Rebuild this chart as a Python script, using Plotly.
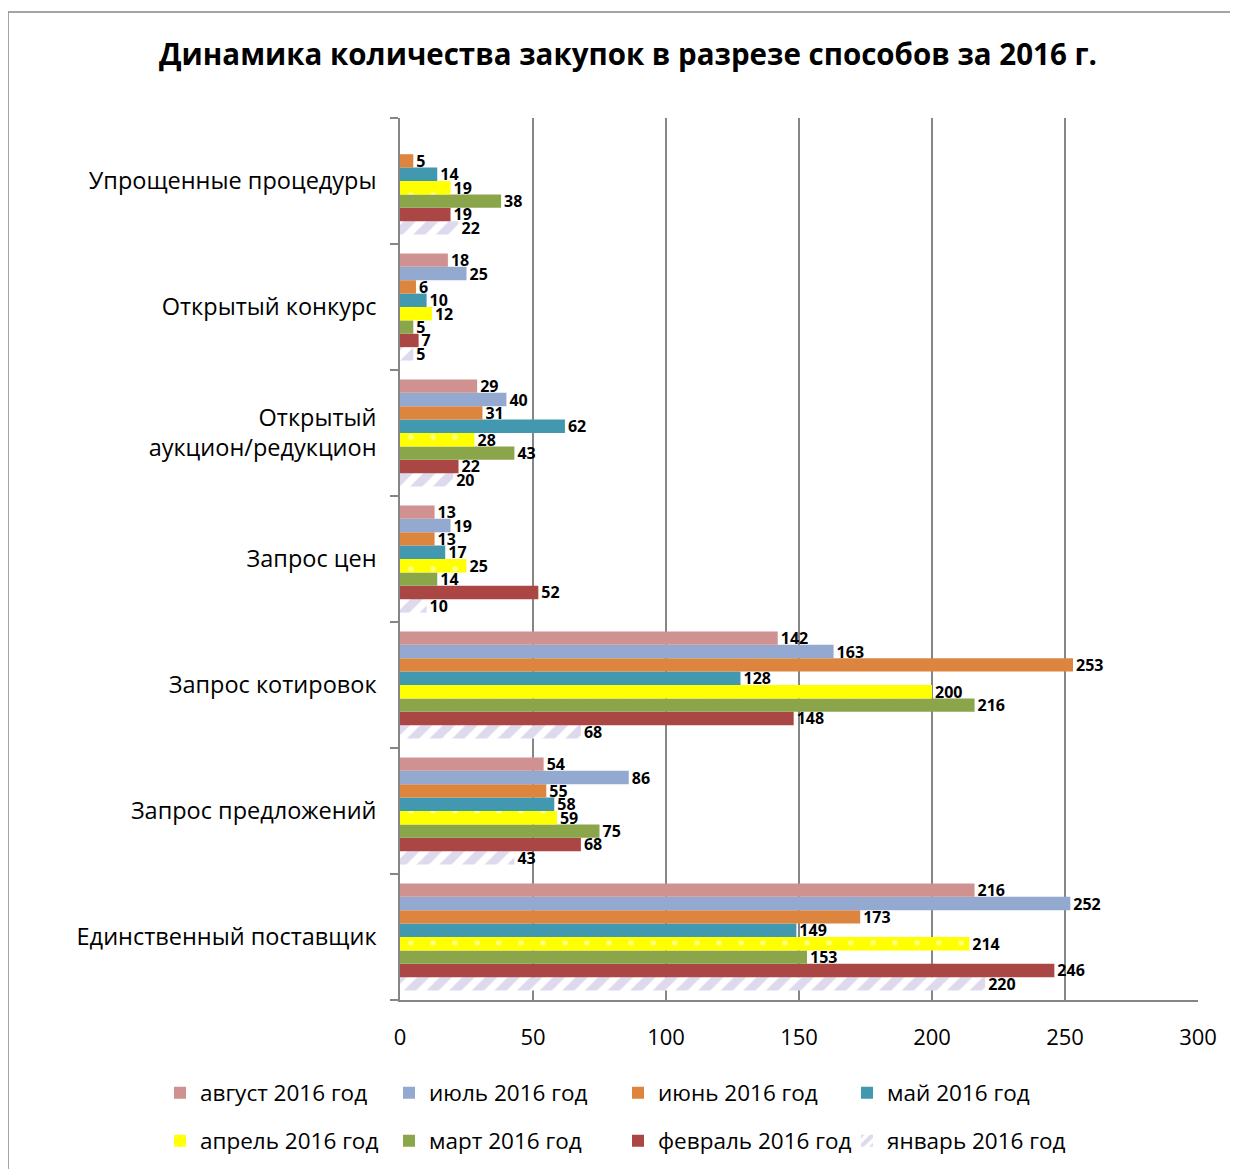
import plotly.graph_objects as go

categories = ["Единственный поставщик", "Запрос предложений", "Запрос котировок",
              "Запрос цен", "Открытый<br>аукцион/редукцион", "Открытый конкурс",
              "Упрощенные процедуры"]

series_names = ["январь 2016 год", "февраль 2016 год", "март 2016 год", "апрель 2016 год",
                "май 2016 год", "июнь 2016 год", "июль 2016 год", "август 2016 год"]

jan = [220, 43, 68, 10, 20, 5, 22]
feb = [246, 68, 148, 52, 22, 7, 19]
mar = [153, 75, 216, 14, 43, 5, 38]
apr = [214, 59, 200, 25, 28, 12, 19]
may = [149, 58, 128, 17, 62, 10, 14]
jun = [173, 55, 253, 13, 31, 6, 5]
jul = [252, 86, 163, 19, 40, 25, None]
aug = [216, 54, 142, 13, 29, 18, None]

values = [jan, feb, mar, apr, may, jun, jul, aug]
colors = ["#FFFFFF", "#AA4643", "#8BA54B", "#FFFF00", "#4198AF", "#DD843E", "#93A9D0", "#D09191"]
legend_rows = ["legend2", "legend2", "legend2", "legend2", "legend", "legend", "legend", "legend"]

FONT = "Open Sans"

fig = go.Figure()
for name, vals, col, lg in zip(series_names, values, colors, legend_rows):
    marker = dict(color=col, line=dict(width=0))
    if name.startswith("январь"):
        marker["pattern"] = dict(shape="/", fgcolor="#BFB3DB", bgcolor="#FFFFFF", size=16, solidity=0.55)
    elif name.startswith("апрель"):
        marker["pattern"] = dict(shape=".", fgcolor="#FFFFFF", bgcolor="#FFFF00", size=22, solidity=0.05)
    fig.add_trace(go.Bar(
        y=categories, x=vals, name=name, orientation="h", marker=marker, legend=lg,
        text=[str(v) if v is not None else "" for v in vals],
        textposition="outside", cliponaxis=False, constraintext="none",
        textfont=dict(family=FONT, size=16, color="black", weight="bold"),
    ))

# image-pixel -> paper coordinate helpers (plot area spans x 400..1198, y 118..1000)
px = lambda p: (p - 400) / 798
py = lambda p: (1000 - p) / 882

legend_common = dict(orientation="h", traceorder="reversed", xanchor="left", yanchor="middle",
                     entrywidth=184, entrywidthmode="pixels", bgcolor="rgba(0,0,0,0)",
                     font=dict(size=22.5, family=FONT), itemwidth=30)

fig.update_layout(
    width=1230, height=1161,
    margin=dict(l=392, r=40, t=110, b=169, autoexpand=False),
    paper_bgcolor="white", plot_bgcolor="white",
    barmode="group", bargap=0.15, bargroupgap=0,
    font=dict(family=FONT, color="black"),
    title=dict(text="<b>Динамика количества закупок в разрезе способов за 2016 г.</b>",
               x=(628 - 8) / 1230, xanchor="center", y=1 - (55 - 8) / 1161, yanchor="middle",
               font=dict(family=FONT, size=29.5, color="black")),
    xaxis=dict(range=[0, 300], dtick=50, showgrid=True, gridcolor="#868686", gridwidth=1.5,
               showline=True, linecolor="#868686", linewidth=1.5, ticks="",
               tickfont=dict(size=22, family=FONT), zeroline=False, ticklabelstandoff=17,
               automargin=False),
    yaxis=dict(showline=True, linecolor="#868686", linewidth=1.5, ticks="outside",
               tickson="boundaries", ticklen=8, tickcolor="#868686", tickwidth=1.5,
               tickfont=dict(size=23.5, family=FONT), ticklabelstandoff=17, automargin=False),
    legend=dict(x=px(160), y=py(1093), **legend_common),
    legend2=dict(x=px(160), y=py(1141), **legend_common),
    showlegend=True,
)

fig.add_shape(type="rect", xref="paper", yref="paper",
              x0=px(8), x1=px(1260), y0=py(1190), y1=py(12),
              line=dict(color="#868686", width=1.5), fillcolor="rgba(0,0,0,0)", layer="below")

fig.write_html("out.html")
